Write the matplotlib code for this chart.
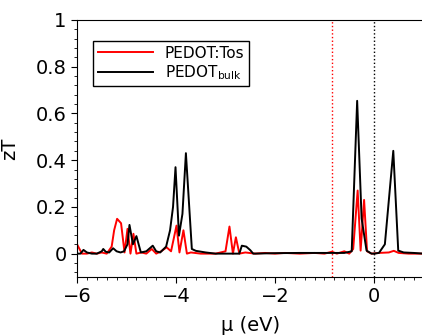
import numpy as np
import matplotlib.pyplot as plt
from matplotlib.ticker import MultipleLocator, FormatStrFormatter

# PEDOT:Tos (red)
mu_tos = [-6.0, -5.95, -5.9, -5.8, -5.7, -5.6, -5.5, -5.4, -5.3, -5.25, -5.19, -5.11,
          -5.04, -4.98, -4.92, -4.86, -4.8, -4.7, -4.6, -4.49, -4.4, -4.3, -4.19, -4.1,
          -3.99, -3.93, -3.85, -3.78, -3.7, -3.5, -3.2, -3.0, -2.92, -2.85, -2.79, -2.72,
          -2.6, -2.4, -2.2, -2.0, -1.8, -1.5, -1.2, -1.0, -0.85, -0.75, -0.6, -0.5, -0.42,
          -0.33, -0.27, -0.2, -0.14, -0.05, 0.1, 0.3, 0.4, 0.5, 0.7, 1.0]
zt_tos = [0.04, 0.02, 0.0, 0.0, 0.005, 0.0, 0.005, 0.0, 0.03, 0.1, 0.149, 0.13,
          0.005, 0.106, 0.0, 0.085, 0.0, 0.005, 0.0, 0.02, 0.0, 0.01, 0.027, 0.01,
          0.12, 0.005, 0.1, 0.0, 0.005, 0.0, 0.0, 0.01, 0.116, 0.0, 0.07, 0.0,
          0.005, 0.0, 0.003, 0.0, 0.003, 0.0, 0.003, 0.0, 0.008, 0.0, 0.01, 0.0, 0.02,
          0.27, 0.013, 0.23, 0.01, 0.0, 0.003, 0.005, 0.012, 0.003, 0.0, 0.0]

# PEDOT bulk (black)
mu_bulk = [-6.0, -5.93, -5.87, -5.8, -5.7, -5.6, -5.5, -5.47, -5.42, -5.35, -5.27, -5.2,
           -5.12, -5.05, -4.98, -4.94, -4.87, -4.8, -4.71, -4.6, -4.47, -4.4, -4.32, -4.2,
           -4.12, -4.06, -4.01, -3.94, -3.87, -3.80, -3.68, -3.6, -3.4, -3.2, -3.0, -2.8,
           -2.72, -2.67, -2.58, -2.5, -2.44, -2.0, -1.5, -1.0, -0.6, -0.45, -0.34, -0.25,
           -0.15, -0.05, 0.0, 0.1, 0.22, 0.39, 0.49, 0.6, 0.8, 1.0]
zt_bulk = [0.0, 0.0, 0.016, 0.005, 0.0, 0.0, 0.01, 0.02, 0.008, 0.005, 0.023, 0.01,
           0.005, 0.01, 0.04, 0.123, 0.04, 0.075, 0.005, 0.01, 0.034, 0.01, 0.005, 0.03,
           0.1, 0.2, 0.37, 0.077, 0.17, 0.43, 0.02, 0.012, 0.005, 0.0, 0.0, 0.0,
           0.0, 0.034, 0.03, 0.015, 0.0, 0.002, 0.003, 0.003, 0.003, 0.01, 0.654, 0.15,
           0.013, 0.0, 0.0, 0.003, 0.04, 0.44, 0.013, 0.005, 0.003, 0.0]

fig = plt.figure(figsize=(4.22, 3.36), dpi=100)
ax = fig.add_axes([0.1825, 0.1756, 0.8210, 0.7649])

ax.plot(mu_tos, zt_tos, color='red', lw=1.4, label='PEDOT:Tos')
ax.plot(mu_bulk, zt_bulk, color='black', lw=1.4, label='PEDOT$_{\\mathrm{bulk}}$')
ax.axvline(-0.85, color='red', ls=':', lw=1)
ax.axvline(0, color='black', ls=':', lw=1)

ax.set_xlim(-6, 1)
ax.set_ylim(-0.1, 1)
ax.xaxis.set_major_locator(MultipleLocator(2))
ax.xaxis.set_minor_locator(MultipleLocator(0.2))
ax.yaxis.set_major_locator(MultipleLocator(0.2))
ax.yaxis.set_minor_locator(MultipleLocator(0.04))
ax.yaxis.set_major_formatter(FormatStrFormatter('%g'))
ax.tick_params(which='both', direction='out', top=False, right=False, labelsize=14)
ax.tick_params(which='major', length=4)
ax.tick_params(which='minor', length=2.5)

ax.set_xlabel('μ (eV)', fontsize=14, labelpad=7)
ax.set_ylabel('zT', fontsize=14, labelpad=12)

leg = ax.legend(loc='upper left', bbox_to_anchor=(0.046, 0.918), fontsize=11,
                handlelength=3.6, fancybox=False, edgecolor='black', framealpha=1,
                borderpad=0.3, labelspacing=0.15, borderaxespad=0)
leg.get_frame().set_linewidth(1)

plt.savefig('out.png')
